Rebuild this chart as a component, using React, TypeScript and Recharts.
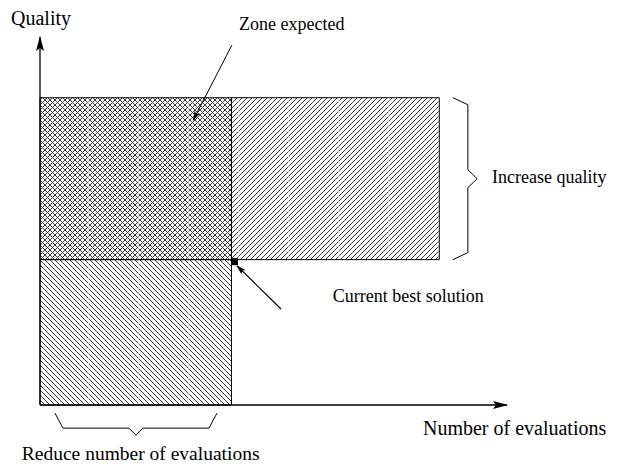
import {
  ComposedChart,
  ReferenceArea,
  ReferenceDot,
  ReferenceLine,
  Scatter,
  XAxis,
  YAxis,
} from "recharts";

const W = 619;
const H = 464;
const FONT = '"Liberation Serif", "Times New Roman", serif';

// abstract units: evaluations (x) and quality (y), both 0..10 on the axes
const axisEnd = { evals: 10, quality: 10 };
const bestSolution = [{ evals: 4.1, quality: 3.95 }];
const evalSplits = [0, 4.1, 8.55];
const qualitySplits = [0, 3.95, 8.35];

// zones: [x1, x2, y1, y2] as indices into the splits above
const zones = [
  { name: "expected", xi: [0, 1], yi: [1, 2] },
  { name: "quality", xi: [1, 2], yi: [1, 2] },
  { name: "evaluations", xi: [0, 1], yi: [0, 1] },
];
const zoneFill: Record<string, string> = {
  expected: "url(#cross)",
  quality: "url(#fwd)",
  evaluations: "url(#back)",
};

const zoneArrow = [
  { x: 4.11, y: 9.78 },
  { x: 3.28, y: 7.74 },
];
const bestArrow = [
  { x: 5.16, y: 2.61 },
  { x: 4.22, y: 3.78 },
];

const qualityBrace = { x1: 8.84, x2: 9.36, y1: 3.95, y2: 8.35 };
const evalBrace = { x1: 0.32, x2: 3.79, y1: -0.82, y2: -0.22 };

const labels = [
  { text: "Quality", x: -0.62, y: 10.33 },
  { text: "Zone expected", x: 4.26, y: 10.19 },
  { text: "Increase quality", x: 9.68, y: 6.03 },
  { text: "Current best solution", x: 6.27, y: 2.8 },
  { text: "Number of evaluations", x: 8.2, y: -0.82 },
  { text: "Reduce number of evaluations", x: -0.39, y: -1.5 },
];
const labelSize: Record<string, number> = {
  Quality: 20,
  "Number of evaluations": 20,
  "Reduce number of evaluations": 19.5,
};

const arrowLine = (marker: string, width = 1.2) => (p: any) => (
  <line
    x1={p.x1}
    y1={p.y1}
    x2={p.x2}
    y2={p.y2}
    stroke="#000"
    strokeWidth={width}
    markerEnd={`url(#${marker})`}
  />
);

const rightBrace = (p: any) => {
  const { x, y, width: w, height: h } = p;
  const s = x + w * 0.62;
  const m = y + h / 2;
  return (
    <path
      d={`M${x},${y} L${s},${y + 7} L${s},${m - 9} L${x + w},${m} L${s},${m + 9} L${s},${y + h - 7} L${x},${y + h}`}
      fill="none"
      stroke="#000"
      strokeWidth={1}
    />
  );
};

const bottomBrace = (p: any) => {
  const { x, y, width: w, height: h } = p;
  const s = y + h * 0.68;
  const m = x + w / 2;
  return (
    <path
      d={`M${x},${y} L${x + 8},${s} L${m - 7},${s} L${m},${y + h} L${m + 7},${s} L${x + w - 8},${s} L${x + w},${y}`}
      fill="none"
      stroke="#000"
      strokeWidth={1}
    />
  );
};

const square = (p: any) => (
  <rect x={p.cx - 0.5} y={p.cy - 1.5} width={7} height={7} fill="#000" />
);

export default function App() {
  return (
    <div style={{ position: "absolute", left: 0, top: 0, width: W, height: H, background: "#fff" }}>
      <ComposedChart
        width={W}
        height={H}
        margin={{ top: 37, right: 112, bottom: 59, left: 40 }}
      >
        <defs>
          <pattern id="fwd" patternUnits="userSpaceOnUse" width="5" height="5">
            <path d="M-1,1 L1,-1 M0,5 L5,0 M4,6 L6,4" stroke="#222" strokeWidth="0.9" />
          </pattern>
          <pattern id="back" patternUnits="userSpaceOnUse" width="5" height="5">
            <path d="M-1,4 L1,6 M0,0 L5,5 M4,-1 L6,1" stroke="#222" strokeWidth="0.9" />
          </pattern>
          <pattern id="cross" patternUnits="userSpaceOnUse" width="5" height="5">
            <path
              d="M-1,1 L1,-1 M0,5 L5,0 M4,6 L6,4 M-1,4 L1,6 M0,0 L5,5 M4,-1 L6,1"
              stroke="#3c3c3c"
              strokeWidth="1"
            />
          </pattern>
          <pattern id="gaps" patternUnits="userSpaceOnUse" width="50" height="10" x="38">
            <rect x="0" y="0" width="1.2" height="10" fill="#fff" fillOpacity={0.5} />
          </pattern>
          <marker id="axisHead" markerUnits="userSpaceOnUse" markerWidth="15" markerHeight="8" refX="14" refY="4" orient="auto">
            <path d="M0,0 L15,4 L0,8 L3,4 z" fill="#000" />
          </marker>
          <marker id="smallHead" markerUnits="userSpaceOnUse" markerWidth="10" markerHeight="6" refX="9" refY="3" orient="auto">
            <path d="M0,0 L10,3 L0,6 L2,3 z" fill="#000" />
          </marker>
        </defs>
        <XAxis type="number" dataKey="evals" domain={[0, axisEnd.evals]} hide allowDataOverflow />
        <YAxis type="number" dataKey="quality" domain={[0, axisEnd.quality]} hide allowDataOverflow />

        {zones.map((z) => (
          <ReferenceArea
            key={z.name}
            x1={evalSplits[z.xi[0]]}
            x2={evalSplits[z.xi[1]]}
            y1={qualitySplits[z.yi[0]]}
            y2={qualitySplits[z.yi[1]]}
            fill={zoneFill[z.name]}
            fillOpacity={1}
            stroke="none"
            ifOverflow="visible"
          />
        ))}
        {zones.map((z) => (
          <ReferenceArea
            key={z.name + "-gaps"}
            x1={evalSplits[z.xi[0]]}
            x2={evalSplits[z.xi[1]]}
            y1={qualitySplits[z.yi[0]]}
            y2={qualitySplits[z.yi[1]]}
            fill="url(#gaps)"
            fillOpacity={1}
            stroke="#000"
            strokeWidth={1}
            ifOverflow="visible"
          />
        ))}

        <ReferenceLine
          segment={[{ x: 0, y: 0 }, { x: axisEnd.evals, y: 0 }]}
          shape={arrowLine("axisHead", 1.3)}
          ifOverflow="visible"
        />
        <ReferenceLine
          segment={[{ x: 0, y: 0 }, { x: 0, y: axisEnd.quality }]}
          shape={arrowLine("axisHead", 1.3)}
          ifOverflow="visible"
        />
        <ReferenceLine segment={zoneArrow} shape={arrowLine("smallHead", 1)} ifOverflow="visible" />
        <ReferenceLine segment={bestArrow} shape={arrowLine("smallHead", 1.2)} ifOverflow="visible" />

        <ReferenceArea {...qualityBrace} shape={rightBrace} ifOverflow="visible" />
        <ReferenceArea {...evalBrace} shape={bottomBrace} ifOverflow="visible" />

        {labels.map((l) => (
          <ReferenceDot
            key={l.text}
            x={l.x}
            y={l.y}
            ifOverflow="visible"
            shape={(p: any) => (
              <text x={p.cx} y={p.cy} fontFamily={FONT} fontSize={labelSize[l.text] ?? 18} fill="#000">
                {l.text}
              </text>
            )}
          />
        ))}

        <Scatter data={bestSolution} dataKey="quality" shape={square} isAnimationActive={false} />
      </ComposedChart>
    </div>
  );
}
